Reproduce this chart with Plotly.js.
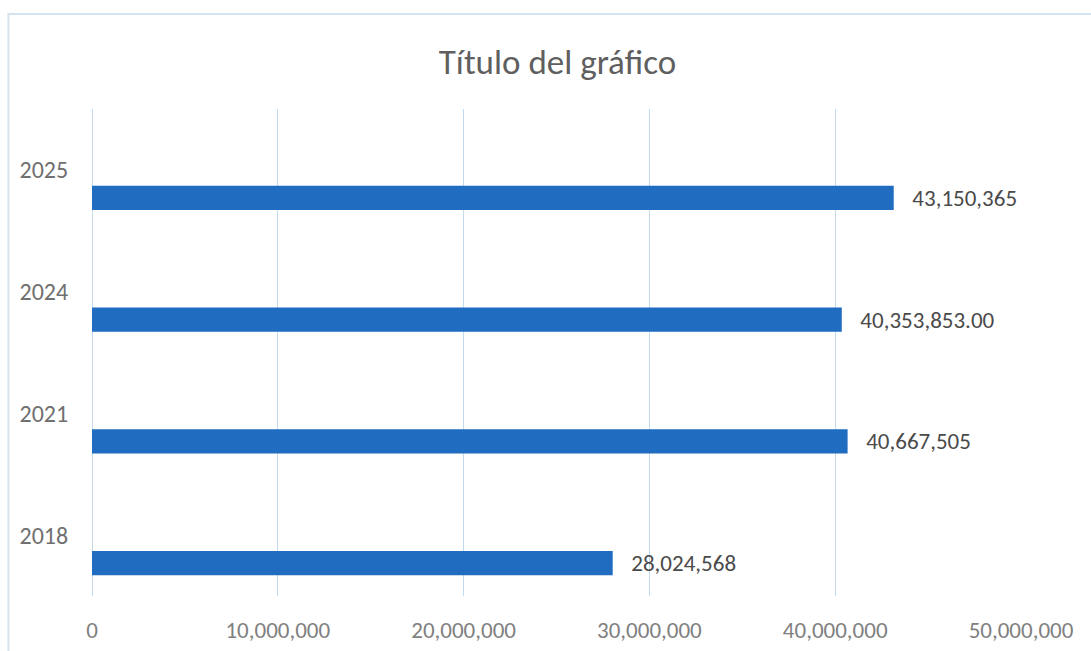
<!DOCTYPE html>
<html>
<head>
<meta charset="utf-8">
<script src="https://cdn.plot.ly/plotly-3.0.1.min.js"></script>
<style>html,body{margin:0;padding:0;background:#fff;}#chart{width:1091px;height:651px;}</style>
</head>
<body>
<div id="chart"></div>
<script>
var years = ['2018', '2021', '2024', '2025'];
var values = [28024568, 40667505, 40353853, 43150365];
var valueLabels = ['28,024,568', '40,667,505', '40,353,853.00', '43,150,365'];
var xTickValues = [0, 10000000, 20000000, 30000000, 40000000, 50000000];
var xTickLabels = ['0', '10,000,000', '20,000,000', '30,000,000', '40,000,000', '50,000,000'];

var fontFam = 'Carlito, "Open Sans", "Noto Sans", sans-serif';

var trace = {
  type: 'bar',
  orientation: 'h',
  y: years,
  x: values,
  text: valueLabels,
  texttemplate: '\u00a0\u00a0\u00a0%{text}',
  textposition: 'outside',
  constraintext: 'none',
  cliponaxis: false,
  textfont: {family: fontFam, size: 23, color: '#4a4a4a'},
  marker: {color: '#1f6cc0'},
  width: 0.2,
  offset: -0.33,
  hoverinfo: 'none'
};

var layout = {
  width: 1091,
  height: 651,
  paper_bgcolor: '#ffffff',
  plot_bgcolor: '#ffffff',
  margin: {l: 92, r: 70, t: 109, b: 55},
  showlegend: false,
  title: {
    text: 'Título del gráfico',
    font: {family: fontFam, size: 35, color: '#5f5f5f'},
    x: 0.511, xref: 'container', xanchor: 'center',
    y: 0.905, yref: 'container', yanchor: 'middle'
  },
  xaxis: {
    range: [0, 50000000],
    tickvals: xTickValues,
    ticktext: xTickLabels,
    showgrid: true,
    gridcolor: '#c3daee',
    gridwidth: 1,
    zeroline: true,
    zerolinecolor: '#c3daee',
    zerolinewidth: 1,
    showline: false,
    ticks: 'outside',
    ticklen: 13,
    tickcolor: 'rgba(0,0,0,0)',
    tickfont: {family: fontFam, size: 23, color: '#808080'},
    fixedrange: true
  },
  yaxis: {
    type: 'category',
    categoryorder: 'array',
    categoryarray: years,
    range: [-0.5, 3.5],
    showgrid: false,
    zeroline: false,
    showline: false,
    ticks: 'outside',
    ticklen: 18,
    tickcolor: 'rgba(0,0,0,0)',
    tickfont: {family: fontFam, size: 24, color: '#707070'},
    fixedrange: true
  },
  shapes: [{
    type: 'rect', xref: 'paper', yref: 'paper',
    x0: -0.09, x1: 1.2, y0: -0.25, y1: 1.195,
    line: {color: '#d5e3ee', width: 2},
    fillcolor: 'rgba(0,0,0,0)',
    layer: 'below'
  }]
};

Plotly.newPlot('chart', [trace], layout, {displayModeBar: false, staticPlot: true});
</script>
</body>
</html>
